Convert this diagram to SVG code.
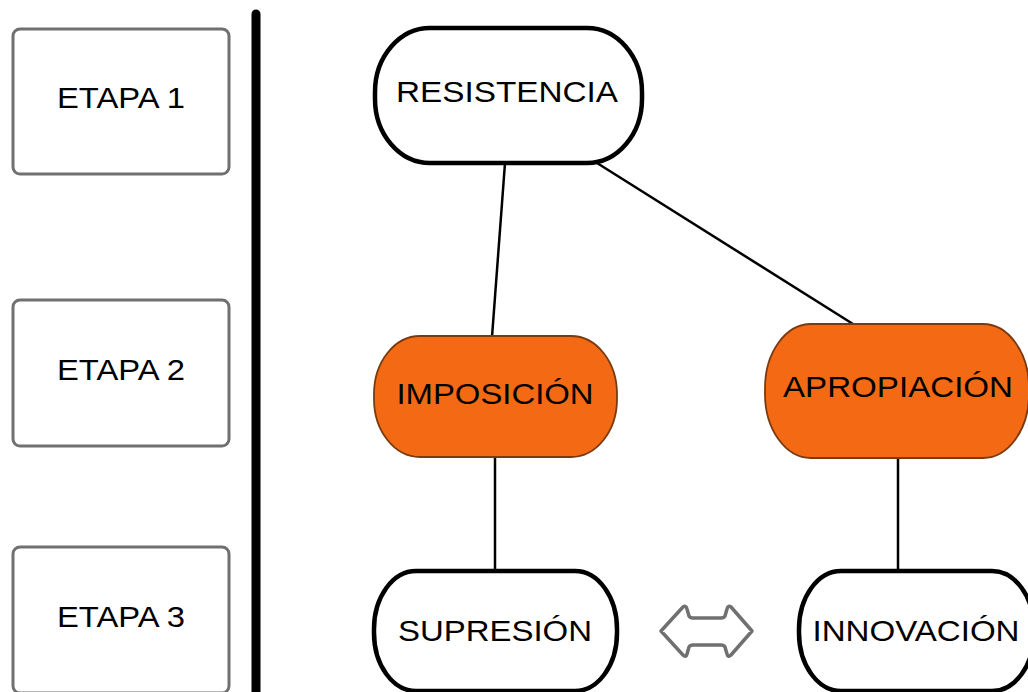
<svg xmlns="http://www.w3.org/2000/svg" width="1028" height="692" viewBox="0 0 1028 692">
<style>
.stage{fill:#fff;stroke:#707070;stroke-width:3}
.white{fill:#fff;stroke:#000;stroke-width:4.5}
.orange{fill:#F46A14;stroke:#7A3A10;stroke-width:1.8}
.lbl{font-family:"Liberation Sans",Arial,sans-serif;font-size:30px;fill:#000;text-anchor:middle}
.conn{stroke:#000;stroke-width:2.5;fill:none}
</style>
<rect width="1028" height="692" fill="#fff"/>
<g id="divider"><line x1="256" y1="14" x2="256" y2="700" stroke="#000" stroke-width="9" stroke-linecap="round"/></g>
<g id="connectors">
<line class="conn" x1="505" y1="163" x2="492" y2="337"/>
<line class="conn" x1="597" y1="163" x2="853" y2="324"/>
<line class="conn" x1="495" y1="457" x2="495" y2="577"/>
<line class="conn" x1="898" y1="458" x2="898" y2="572"/>
</g>
<g id="etapa1"><rect class="stage" x="13" y="29" width="216" height="145" rx="7"/><text class="lbl" x="121" y="108" font-size="31" textLength="128" lengthAdjust="spacingAndGlyphs">ETAPA 1</text></g>
<g id="etapa2"><rect class="stage" x="13" y="300" width="216" height="146" rx="7"/><text class="lbl" x="121" y="380" font-size="31" textLength="128" lengthAdjust="spacingAndGlyphs">ETAPA 2</text></g>
<g id="etapa3"><rect class="stage" x="13" y="547" width="216" height="146" rx="7"/><text class="lbl" x="121" y="627" font-size="31" textLength="128" lengthAdjust="spacingAndGlyphs">ETAPA 3</text></g>
<g id="resistencia"><rect class="white" x="375" y="28" width="267" height="135" rx="55" ry="64"/><text class="lbl" x="507" y="102" textLength="222" lengthAdjust="spacingAndGlyphs">RESISTENCIA</text></g>
<g id="imposicion"><rect class="orange" x="374" y="336" width="243" height="121" rx="46" ry="58"/><text class="lbl" x="495" y="404" textLength="197" lengthAdjust="spacingAndGlyphs">IMPOSICIÓN</text></g>
<g id="apropiacion"><rect class="orange" x="765" y="324" width="264" height="134" rx="46" ry="64"/><text class="lbl" x="898" y="397" textLength="230" lengthAdjust="spacingAndGlyphs">APROPIACIÓN</text></g>
<g id="supresion"><rect class="white" x="374" y="571" width="243" height="120" rx="42" ry="58"/><text class="lbl" x="495" y="641" textLength="194" lengthAdjust="spacingAndGlyphs">SUPRESIÓN</text></g>
<g id="innovacion"><rect class="white" x="799" y="571" width="235" height="120" rx="42" ry="58"/><text class="lbl" x="916" y="641" textLength="207" lengthAdjust="spacingAndGlyphs">INNOVACIÓN</text></g>
<g id="double-arrow"><path d="M661,631 L683,607 Q686,605 687,609 L689,616 Q690,618 693,618 L721,618 Q724,618 725,616 L727,609 Q728,605 731,607 L752,631 L731,655 Q728,658 727,654 L725,647 Q724,645 721,645 L693,645 Q690,645 689,647 L687,654 Q686,658 683,655 Z" fill="#fff" stroke="#707070" stroke-width="3.5" stroke-linejoin="round"/></g>
</svg>
